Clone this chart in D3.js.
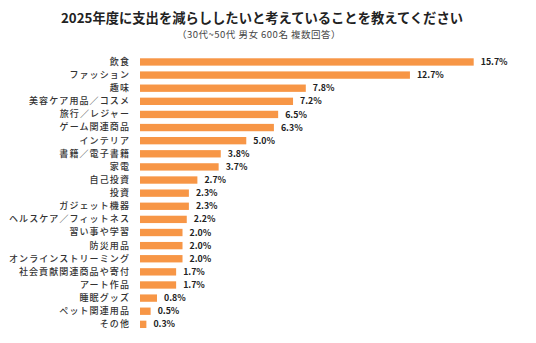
<!DOCTYPE html>
<html><head><meta charset="utf-8">
<script src="https://cdn.jsdelivr.net/npm/d3@7"></script>
<style>
html,body{margin:0;padding:0;background:#fff;}
svg{display:block;font-family:"Noto Sans CJK JP","Noto Sans",sans-serif;}
</style></head>
<body>
<script>
const title = "2025年度に支出を減らししたいと考えていることを教えてください";
const subtitle = "（30代~50代 男女 600名 複数回答）";
const categories = ["飲食","ファッション","趣味","美容ケア用品／コスメ","旅行／レジャー","ゲーム関連商品","インテリア","書籍／電子書籍","家電","自己投資","投資","ガジェット機器","ヘルスケア／フィットネス","習い事や学習","防災用品","オンラインストリーミング","社会貢献関連商品や寄付","アート作品","睡眠グッズ","ペット関連用品","その他"];
const values = [15.7,12.7,7.8,7.2,6.5,6.3,5.0,3.8,3.7,2.7,2.3,2.3,2.2,2.0,2.0,2.0,1.7,1.7,0.8,0.5,0.3];

const W = 536, H = 343;
const svg = d3.select("body").append("svg").attr("width", W).attr("height", H);

svg.append("text").attr("x", 262).attr("y", 22.5).attr("text-anchor", "middle")
  .attr("font-size", 13.3).attr("font-weight", "bold").attr("fill", "#222").text(title);
svg.append("text").attr("x", 259).attr("y", 37.5).attr("text-anchor", "middle")
  .attr("font-size", 9.5).attr("letter-spacing", 0.5).attr("fill", "#444").text(subtitle);

const x0 = 140;
const x = d3.scaleLinear().domain([0, 15.7]).range([x0, 473.7]);
const y = d3.scaleBand().domain(categories).range([55.4, 330.9]).paddingInner(0.44).paddingOuter(0.22);

const yAxis = d3.axisLeft(y).tickSize(0).tickPadding(10);
const gy = svg.append("g").attr("transform", `translate(${x0},0)`).call(yAxis);
gy.select(".domain").remove();
gy.selectAll("text").attr("font-size", 9).attr("font-weight", 500).attr("letter-spacing", 1.1)
  .attr("fill", "#333").attr("font-family", '"Noto Sans CJK JP",sans-serif');

svg.append("g").selectAll("rect").data(values).join("rect")
  .attr("x", x0)
  .attr("y", (d, i) => y(categories[i]))
  .attr("width", d => x(d) - x0)
  .attr("height", y.bandwidth())
  .attr("fill", "#F79646");

svg.append("g").selectAll("text").data(values).join("text")
  .attr("x", d => x(d) + 7)
  .attr("y", (d, i) => y(categories[i]) + y.bandwidth() / 2)
  .attr("dy", "0.35em")
  .attr("font-size", 8.8).attr("font-weight", "bold").attr("fill", "#222")
  .text(d => d.toFixed(1) + "%");
</script>
</body></html>
